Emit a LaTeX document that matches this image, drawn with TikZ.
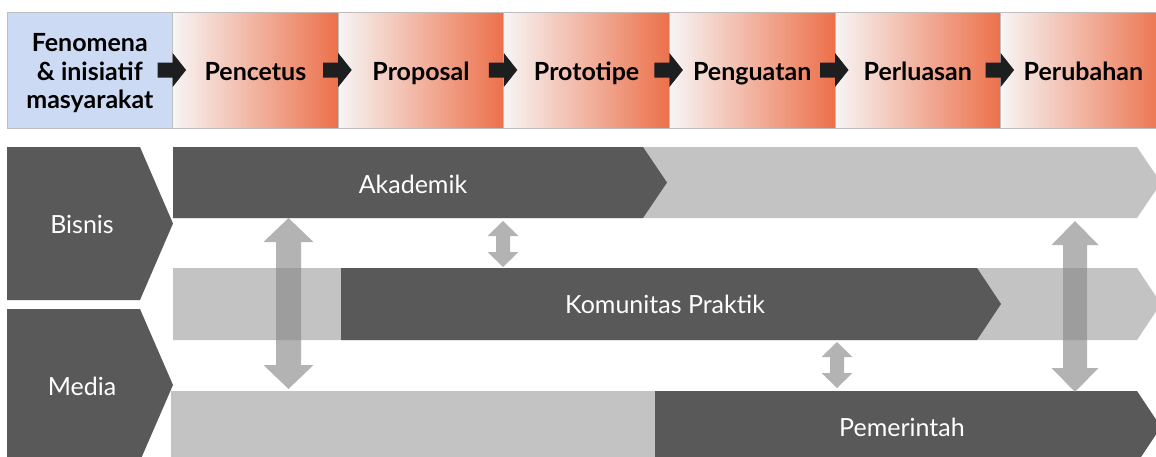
\documentclass[tikz,border=0pt]{standalone}
\usepackage{fontspec}
\setmainfont{Lato}
\definecolor{cellborder}{RGB}{190,190,190}
\definecolor{bluecell}{RGB}{204,218,243}
\definecolor{gradleft}{RGB}{247,245,245}
\definecolor{gradright}{RGB}{236,112,74}
\definecolor{blockarrow}{RGB}{28,30,32}
\definecolor{darkband}{RGB}{89,89,89}
\definecolor{lightband}{RGB}{195,195,195}
\definecolor{linkarrow}{RGB}{138,138,138}
\tikzset{
  cellbox/.style={draw=cellborder, line width=1pt, minimum width=165.6pt, minimum height=116pt, inner sep=0pt},
  stagecell/.style={cellbox, left color=gradleft, right color=gradright},
  startcell/.style={cellbox, fill=bluecell},
  celltext/.style={font=\fontsize{25}{28.3}\selectfont\bfseries, align=center, inner sep=0pt},
  flowarrow/.style={fill=blockarrow, draw=none},
  darkshape/.style={fill=darkband, draw=none},
  lightshape/.style={fill=lightband, draw=none},
  bandlabel/.style={text=white, font=\fontsize{25}{28}\selectfont, inner sep=0pt, anchor=base},
  linkshape/.style={fill=linkarrow, fill opacity=0.65, draw=none}
}
% block arrow straddling a boundary: #1 = boundary x, #2 = centre y
\newcommand{\flowarr}[2]{%
  \fill[flowarrow] (#1-15,#2-7.5) -- (#1,#2-7.5) -- (#1,#2-17) -- (#1+13.5,#2) -- (#1,#2+17) -- (#1,#2+7.5) -- (#1-15,#2+7.5) -- cycle;}
% vertical double arrow: #1 = x, #2 = top tip, #3 = bottom tip, #4 = shaft half, #5 = head half, #6 = head length
\newcommand{\linkarr}[6]{%
  \fill[linkshape] (#1,#2) -- (#1+#5,#2+#6) -- (#1+#4,#2+#6) -- (#1+#4,#3-#6) -- (#1+#5,#3-#6) -- (#1,#3)
    -- (#1-#5,#3-#6) -- (#1-#4,#3-#6) -- (#1-#4,#2+#6) -- (#1-#5,#2+#6) -- cycle;}
\begin{document}
\begin{tikzpicture}[x=1pt,y=-1pt]
\useasboundingbox (0,0) rectangle (1156,456);
\begin{scope}
\clip (0,0) rectangle (1156,456);
% top bar
\node[startcell] (c0) at (89.8,70) {};
\node[stagecell] (c1) at (255.4,70) {};
\node[stagecell] (c2) at (421.0,70) {};
\node[stagecell] (c3) at (586.6,70) {};
\node[stagecell] (c4) at (752.2,70) {};
\node[stagecell] (c5) at (917.8,70) {};
\node[stagecell] (c6) at (1083.4,70) {};
\path (c0.center) ++(0,3.3) node[celltext] (t0) {Fenomena\\\& inisiatif\\masyarakat};
\path (c1.center) ++(0,10) node[celltext, anchor=base] (t1) {Pencetus};
\path (c2.center) ++(0,10) node[celltext, anchor=base] (t2) {Proposal};
\path (c3.center) ++(0,10) node[celltext, anchor=base] (t3) {Prototipe};
\path (c4.center) ++(0,10) node[celltext, anchor=base] (t4) {Penguatan};
\path (c5.center) ++(0,10) node[celltext, anchor=base] (t5) {Perluasan};
\path (c6.center) ++(0,10) node[celltext, anchor=base] (t6) {Perubahan};
\flowarr{172.6}{70}
\flowarr{338.2}{70}
\flowarr{503.8}{70}
\flowarr{669.4}{70}
\flowarr{835.0}{70}
\flowarr{1000.6}{70}
% left chevrons
\fill[darkshape] (7,147) -- (140,147) -- (173,223.5) -- (140,300) -- (7,300) -- cycle;
\fill[darkshape] (7,309) -- (140,309) -- (173,385) -- (140,461) -- (7,461) -- cycle;
\node[bandlabel] (bisnis) at (82,233) {Bisnis};
\node[bandlabel] (media) at (82,395) {Media};
% row 1
\fill[lightshape] (173,147) -- (1137,147) -- (1161,182.5) -- (1137,218) -- (173,218) -- cycle;
\fill[darkshape] (173,147) -- (643,147) -- (667,182.5) -- (643,218) -- (173,218) -- cycle;
\node[bandlabel] (akademik) at (413,193) {Akademik};
% row 2
\fill[lightshape] (173,268) -- (1137,268) -- (1161,304) -- (1137,340) -- (173,340) -- cycle;
\fill[darkshape] (341,268) -- (977,268) -- (1001,304) -- (977,340) -- (341,340) -- cycle;
\node[bandlabel] (kp) at (665,313) {Komunitas Praktik};
% row 3
\fill[lightshape] (171,391) -- (655,391) -- (655,463) -- (171,463) -- cycle;
\fill[darkshape] (655,391) -- (1137,391) -- (1161,427) -- (1137,463) -- (655,463) -- cycle;
\node[bandlabel] (pemerintah) at (902,436) {Pemerintah};
% link arrows
\linkarr{288.5}{218}{389}{12.5}{25}{24}
\linkarr{503}{221}{267}{7}{15.5}{15}
\linkarr{837}{342}{388}{7}{15.5}{15}
\linkarr{1075}{221}{392}{12}{23.5}{24}
\end{scope}
\end{tikzpicture}
\end{document}
